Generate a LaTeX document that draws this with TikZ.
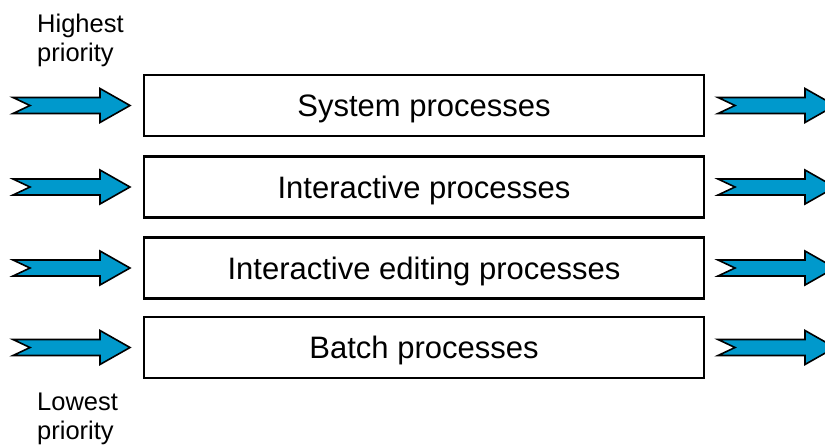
\documentclass[tikz,border=0pt]{standalone}
\usepackage{fontspec}
\setmainfont{Liberation Sans}
\definecolor{arrowblue}{RGB}{0,153,204}
\begin{document}
\begin{tikzpicture}[x=1pt,y=-1pt,
  procbox/.style={draw=black, line width=2.4pt, minimum width=560pt, minimum height=61pt,
    inner sep=0pt, font=\fontsize{31}{37}\selectfont, text height=22pt, text depth=0pt},
  sidelabel/.style={anchor=north west, inner sep=0pt, align=left,
    font=\fontsize{25.5}{28.5}\selectfont},
  arrowfill/.style={fill=arrowblue, draw=black, line width=1.6pt, line join=miter},
  fatarrow/.pic={\filldraw[arrowfill] (-58.5,-8) -- (28.5,-8) -- (28.5,-17) -- (58.5,0)
      -- (28.5,17) -- (28.5,8) -- (-58.5,8) -- (-41.5,0) -- cycle;}]
\useasboundingbox (0,0) rectangle (825,447);
\clip (0,0) rectangle (825,447);

\node[procbox] (sys) at (424,105.5) {System processes};
\node[procbox] (inter) at (424,187) {Interactive processes};
\node[procbox] (edit) at (424,268) {Interactive editing processes};
\node[procbox] (batch) at (424,347.5) {Batch processes};

\foreach \y/\n in {105.5/a,187/b,268/c,347.5/d}{
  \pic (in\n) at (71.5,\y) {fatarrow};
  \pic (out\n) at (776.5,\y) {fatarrow};
}

\node[sidelabel] (high) at (37,14) {Highest\\priority};
\node[sidelabel] (low) at (37,393) {Lowest\\priority};
\end{tikzpicture}
\end{document}
